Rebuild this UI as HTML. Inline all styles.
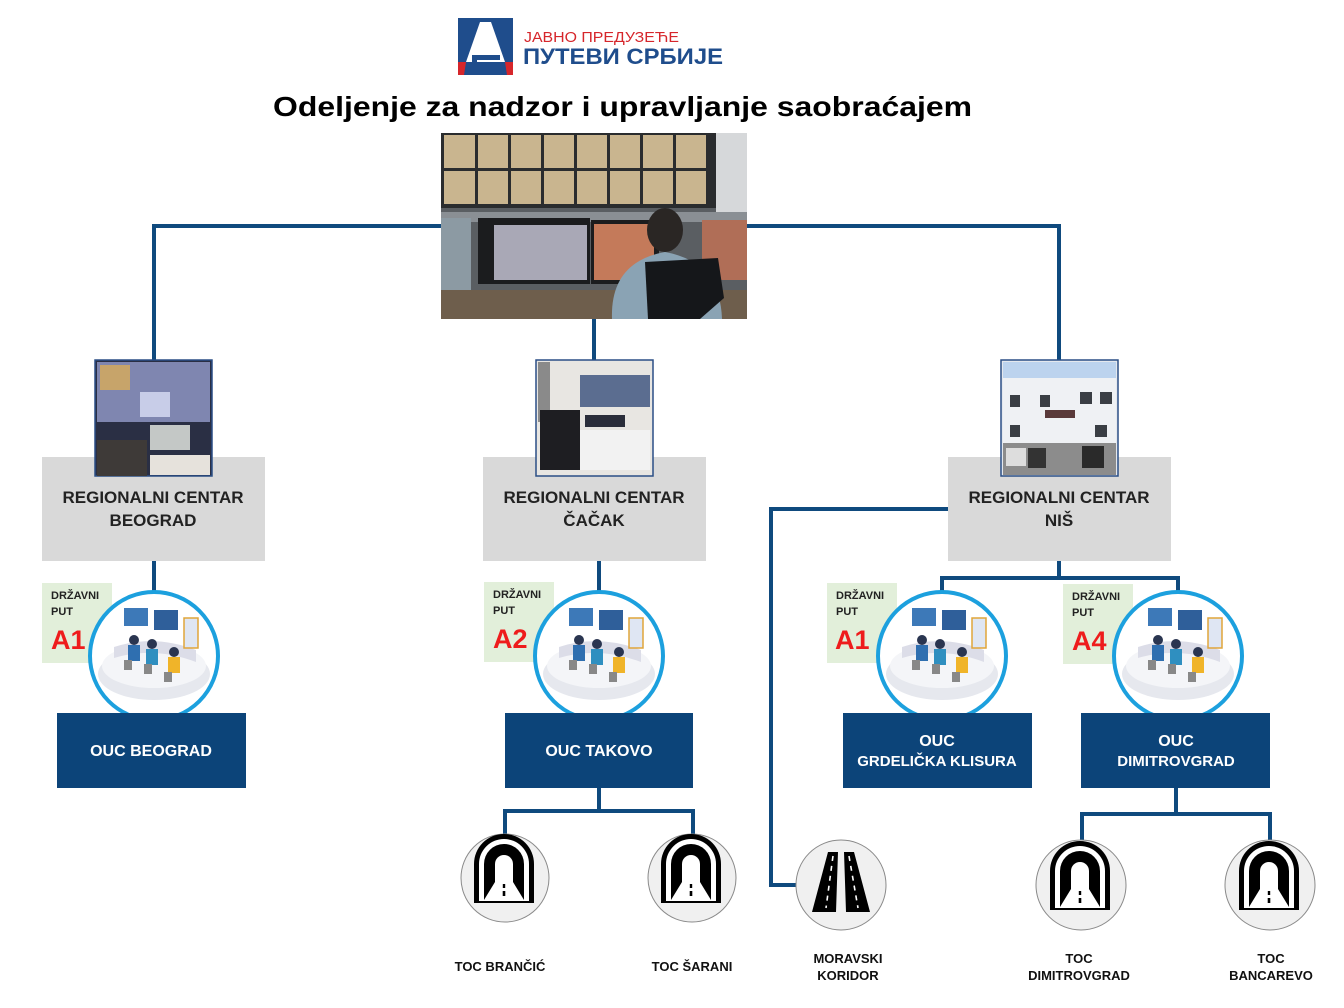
<!DOCTYPE html>
<html><head><meta charset="utf-8"><style>
html,body{margin:0;padding:0;background:#fff;}
svg{display:block}
text{font-family:"Liberation Sans",sans-serif;}
</style></head><body>
<svg width="1344" height="1008" viewBox="0 0 1344 1008" xmlns="http://www.w3.org/2000/svg">
<defs>
<g id="room">
  <ellipse cx="0" cy="22" rx="56" ry="26" fill="#e6e8ee"/>
  <ellipse cx="0" cy="14" rx="52" ry="22" fill="#f4f5f8"/>
  <path d="M-40,-5 Q0,-18 42,-2 L42,10 Q0,-6 -40,6Z" fill="#dcdde8"/>
  <rect x="-30" y="-44" width="24" height="18" fill="#3d79b8"/>
  <rect x="0" y="-42" width="24" height="20" fill="#2f5f9a"/>
  <rect x="30" y="-34" width="14" height="30" fill="#dfe6f3" stroke="#e0a53a" stroke-width="1.5"/>
  <circle cx="-20" cy="-12" r="5" fill="#2a3550"/><rect x="-26" y="-7" width="12" height="16" fill="#2f6fb0"/>
  <circle cx="-2" cy="-8" r="5" fill="#2a3550"/><rect x="-8" y="-3" width="12" height="16" fill="#2f8fc0"/>
  <circle cx="20" cy="0" r="5" fill="#2a3550"/><rect x="14" y="5" width="12" height="16" fill="#f0b429"/>
  <rect x="-30" y="8" width="8" height="10" fill="#888"/><rect x="-10" y="12" width="8" height="10" fill="#888"/><rect x="10" y="20" width="8" height="10" fill="#888"/>
</g>
<g id="tunnel">
  <path d="M-30,32 L-30,-6 A30,30 0 0 1 30,-6 L30,32Z" fill="#000"/>
  <path d="M-25,32 L-25,-6 A25,25 0 0 1 25,-6 L25,32Z" fill="#fff"/>
  <path d="M-20,30 L-20,-6 A20,20 0 0 1 20,-6 L20,30Z" fill="#000"/>
  <path d="M-9,12 L-9,-6 A9,9 0 0 1 9,-6 L9,12Z" fill="#fff"/>
  <path d="M-9,12 L9,12 L20,30 L-20,30Z" fill="#fff"/>
  <rect x="-1.2" y="14" width="2.4" height="4" fill="#000"/><rect x="-1.3" y="21" width="2.6" height="5" fill="#000"/>
  <path d="M-30,32 L30,32" stroke="#000" stroke-width="2"/>
</g>
</defs>

<!-- Logo -->
<rect x="458" y="18" width="55" height="57" fill="#1f4d8c"/>
<path d="M466,62 L480,22 L491,22 L505,62Z" fill="#fff"/>
<path d="M458,62 L466,62 L464,75 L458,75Z M505,62 L513,62 L513,75 L507,75Z" fill="#d6262b"/>
<rect x="472" y="55" width="28" height="5" fill="#1f4d8c"/><rect x="472" y="64" width="28" height="5" fill="#1f4d8c"/>
<rect x="472" y="55" width="5" height="14" fill="#1f4d8c"/>
<text x="524" y="42" font-size="15" fill="#d6262b" textLength="155" lengthAdjust="spacingAndGlyphs">ЈАВНО ПРЕДУЗЕЋЕ</text>
<text x="523" y="64" font-size="22" font-weight="bold" fill="#1f4d8c" textLength="200" lengthAdjust="spacingAndGlyphs">ПУТЕВИ СРБИЈЕ</text>

<!-- Title -->
<text x="273" y="116" font-size="28" font-weight="bold" fill="#000" textLength="699" lengthAdjust="spacingAndGlyphs">Odeljenje za nadzor i upravljanje saobraćajem</text>

<!-- connectors -->
<g stroke="#0f4a7e" stroke-width="4" fill="none">
  <path d="M441,226 L154,226 L154,362"/>
  <path d="M747,226 L1059,226 L1059,362"/>
  <path d="M594,318 L594,362"/>
  <path d="M154,561 L154,596"/>
  <path d="M599,561 L599,596"/>
  <path d="M1059,561 L1059,578 M942,596 L942,578 L1178,578 L1178,596"/>
  <path d="M948,509 L771,509 L771,885 L797,885"/>
  <path d="M599,788 L599,811 M505,836 L505,811 L693,811 L693,836"/>
  <path d="M1176,788 L1176,814 M1082,842 L1082,814 L1270,814 L1270,842"/>
</g>

<!-- Main photo -->
<rect x="441" y="133" width="306" height="186" fill="#5a5e62"/>
<rect x="441" y="133" width="275" height="75" fill="#2a2c2e"/>
<g fill="#c9b58f">
  <rect x="444" y="135" width="31" height="33"/><rect x="478" y="135" width="30" height="33"/><rect x="511" y="135" width="30" height="33"/><rect x="544" y="135" width="30" height="33"/><rect x="577" y="135" width="30" height="33"/><rect x="610" y="135" width="30" height="33"/><rect x="643" y="135" width="30" height="33"/><rect x="676" y="135" width="30" height="33"/>
  <rect x="444" y="171" width="31" height="33"/><rect x="478" y="171" width="30" height="33"/><rect x="511" y="171" width="30" height="33"/><rect x="544" y="171" width="30" height="33"/><rect x="577" y="171" width="30" height="33"/><rect x="610" y="171" width="30" height="33"/><rect x="643" y="171" width="30" height="33"/><rect x="676" y="171" width="30" height="33"/>
</g>
<rect x="716" y="133" width="31" height="90" fill="#d6d8da"/>
<rect x="441" y="212" width="306" height="10" fill="#8a8f94"/>
<rect x="478" y="218" width="112" height="66" fill="#1b1c1e"/>
<rect x="494" y="225" width="93" height="55" fill="#a9a8b6"/>
<rect x="591" y="220" width="68" height="64" fill="#1b1c1e"/>
<rect x="594" y="224" width="60" height="56" fill="#c47a5a"/>
<rect x="702" y="220" width="45" height="60" fill="#b06e57"/>
<rect x="441" y="218" width="30" height="80" fill="#8c9aa3"/>
<rect x="441" y="290" width="306" height="29" fill="#6e5e4c"/>
<ellipse cx="665" cy="230" rx="18" ry="22" fill="#2a2624"/>
<path d="M612,319 Q610,262 665,252 Q720,262 722,319Z" fill="#8aa3b4"/>
<path d="M645,262 L718,258 L724,298 L700,319 L648,319Z" fill="#15171a"/>

<!-- small photos -->
<rect x="42" y="457" width="223" height="104" fill="#d9d9d9"/>
<rect x="483" y="457" width="223" height="104" fill="#d9d9d9"/>
<rect x="948" y="457" width="223" height="104" fill="#d9d9d9"/>

<rect x="95" y="360" width="117" height="116" fill="#2a2f44" stroke="#2b4f86" stroke-width="1.5"/>
<rect x="97" y="362" width="113" height="60" fill="#7f86b0"/>
<rect x="100" y="365" width="30" height="25" fill="#c7a46a"/><rect x="140" y="392" width="30" height="25" fill="#c8cde8"/>
<rect x="150" y="425" width="40" height="25" fill="#c4c8c6"/>
<rect x="97" y="440" width="50" height="36" fill="#3e3a38"/>
<rect x="150" y="455" width="60" height="20" fill="#e6e2dc"/>

<rect x="536" y="360" width="117" height="116" fill="#e8e6e2" stroke="#2b4f86" stroke-width="1.5"/>
<rect x="580" y="375" width="70" height="32" fill="#5b6d90"/>
<rect x="538" y="362" width="12" height="60" fill="#8a8a8a"/>
<rect x="540" y="410" width="40" height="60" fill="#1e1e22"/>
<rect x="580" y="430" width="70" height="40" fill="#f2f2f2"/>
<rect x="585" y="415" width="40" height="12" fill="#2a2d3a"/>

<rect x="1001" y="360" width="117" height="116" fill="#e4e8ee" stroke="#2b4f86" stroke-width="1.5"/>
<rect x="1003" y="362" width="113" height="22" fill="#bcd3ee"/>
<rect x="1003" y="378" width="113" height="65" fill="#eff1f4"/>
<g fill="#3a3e44"><rect x="1010" y="395" width="10" height="12"/><rect x="1040" y="395" width="10" height="12"/><rect x="1080" y="392" width="12" height="12"/><rect x="1100" y="392" width="12" height="12"/><rect x="1010" y="425" width="10" height="12"/><rect x="1095" y="425" width="12" height="12"/></g>
<rect x="1045" y="410" width="30" height="8" fill="#5a3a3a"/>
<rect x="1003" y="443" width="113" height="32" fill="#8c8c8c"/>
<rect x="1006" y="448" width="20" height="18" fill="#ddd"/><rect x="1028" y="448" width="18" height="20" fill="#333"/><rect x="1082" y="446" width="22" height="22" fill="#2a2a2a"/>

<g font-size="17" font-weight="bold" fill="#222" text-anchor="middle">
  <text x="153" y="503">REGIONALNI CENTAR</text><text x="153" y="526">BEOGRAD</text>
  <text x="594" y="503">REGIONALNI CENTAR</text><text x="594" y="526">ČAČAK</text>
  <text x="1059" y="503">REGIONALNI CENTAR</text><text x="1059" y="526">NIŠ</text>
</g>

<!-- green labels -->
<g>
  <rect x="42" y="583" width="70" height="80" fill="#e2efda"/>
  <rect x="484" y="582" width="70" height="80" fill="#e2efda"/>
  <rect x="827" y="583" width="70" height="80" fill="#e2efda"/>
  <rect x="1063" y="584" width="70" height="80" fill="#e2efda"/>
</g>
<g font-size="11" font-weight="bold" fill="#222">
  <text x="51" y="599">DRŽAVNI</text><text x="51" y="615">PUT</text>
  <text x="493" y="598">DRŽAVNI</text><text x="493" y="614">PUT</text>
  <text x="836" y="599">DRŽAVNI</text><text x="836" y="615">PUT</text>
  <text x="1072" y="600">DRŽAVNI</text><text x="1072" y="616">PUT</text>
</g>
<g font-size="27" font-weight="bold" fill="#ee1c1c">
  <text x="51" y="649">A1</text><text x="493" y="648">A2</text><text x="835" y="649">A1</text><text x="1072" y="650">A4</text>
</g>

<!-- circles -->
<g stroke="#1ca0de" stroke-width="4" fill="#fff">
  <circle cx="154" cy="656" r="64"/><circle cx="599" cy="656" r="64"/><circle cx="942" cy="656" r="64"/><circle cx="1178" cy="656" r="64"/>
</g>
<use href="#room" x="154" y="652"/><use href="#room" x="599" y="652"/><use href="#room" x="942" y="652"/><use href="#room" x="1178" y="652"/>

<!-- OUC boxes -->
<g fill="#0c4479">
  <rect x="57" y="713" width="189" height="75"/><rect x="505" y="713" width="188" height="75"/>
  <rect x="843" y="713" width="189" height="75"/><rect x="1081" y="713" width="189" height="75"/>
</g>
<g font-size="16" font-weight="bold" fill="#fff" text-anchor="middle">
  <text x="151" y="756">OUC BEOGRAD</text>
  <text x="599" y="756">OUC TAKOVO</text>
  <text x="937" y="746">OUC</text><text x="937" y="766" font-size="15">GRDELIČKA KLISURA</text>
  <text x="1176" y="746">OUC</text><text x="1176" y="766" font-size="15">DIMITROVGRAD</text>
</g>

<!-- icon circles -->
<g fill="#f0f0f0" stroke="#8a8a8a" stroke-width="1">
  <circle cx="505" cy="878" r="44"/><circle cx="692" cy="878" r="44"/>
  <circle cx="841" cy="885" r="45"/><circle cx="1081" cy="885" r="45"/><circle cx="1270" cy="885" r="45"/>
</g>
<use href="#tunnel" x="504" y="870"/><use href="#tunnel" x="691" y="870"/>
<use href="#tunnel" x="1080" y="877"/><use href="#tunnel" x="1269" y="877"/>
<path d="M828,852 L838,852 L836,912 L812,912Z M844,852 L854,852 L870,912 L846,912Z" fill="#000"/>
<g stroke="#fff" stroke-width="1.6" stroke-dasharray="5,5"><path d="M833,856 L826,908"/><path d="M849,856 L858,908"/></g>

<g font-size="13" font-weight="bold" fill="#111" text-anchor="middle">
  <text x="500" y="971">TOC BRANČIĆ</text>
  <text x="692" y="971">TOC ŠARANI</text>
  <text x="848" y="963">MORAVSKI</text><text x="848" y="980">KORIDOR</text>
  <text x="1079" y="963">TOC</text><text x="1079" y="980">DIMITROVGRAD</text>
  <text x="1271" y="963">TOC</text><text x="1271" y="980">BANCAREVO</text>
</g>
</svg>
</body></html>
